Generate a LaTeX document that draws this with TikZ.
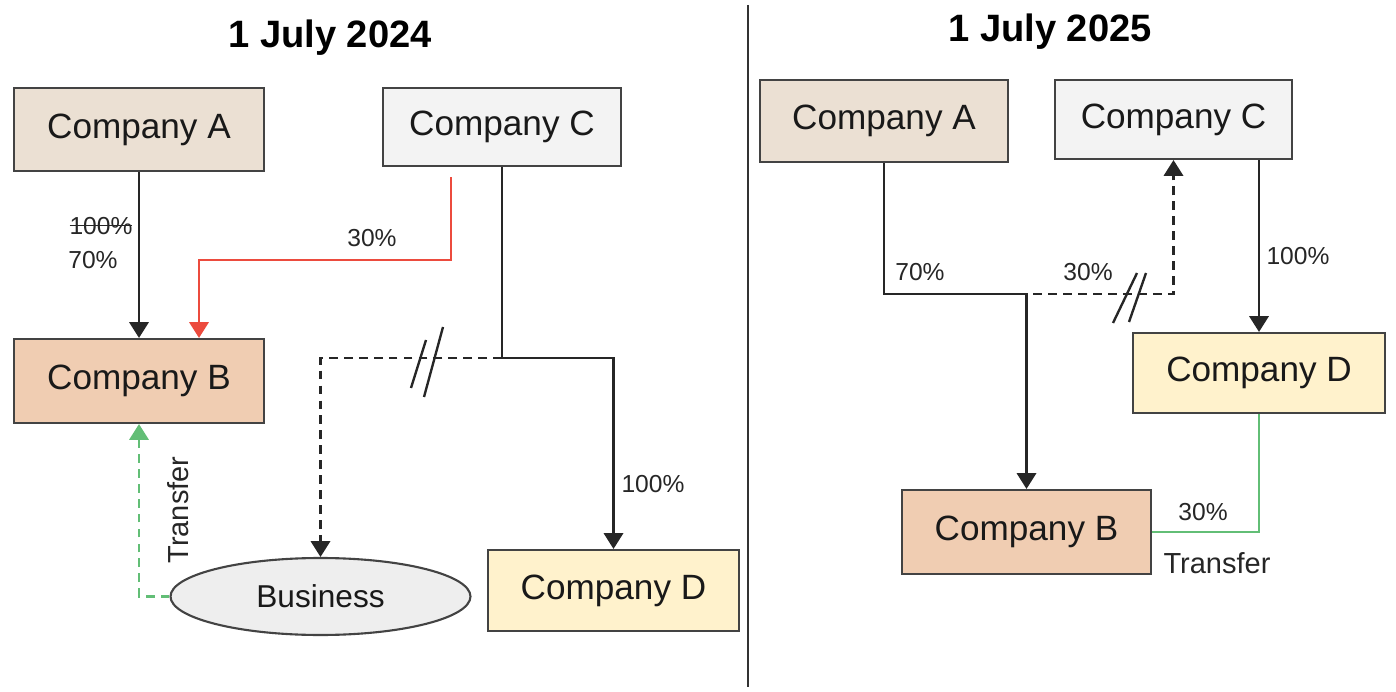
\documentclass[tikz,border=0pt]{standalone}
\usepackage{fontspec}
\setmainfont{Liberation Sans}
\usepackage{tikz}
\usetikzlibrary{shapes.geometric, arrows.meta, positioning, calc}
\definecolor{boxborder}{RGB}{67,67,67}
\definecolor{beigebox}{RGB}{235,224,211}
\definecolor{peachbox}{RGB}{240,205,178}
\definecolor{greybox}{RGB}{243,243,243}
\definecolor{yellowbox}{RGB}{255,242,204}
\definecolor{ellipsegrey}{RGB}{238,238,238}
\definecolor{linered}{RGB}{236,75,62}
\definecolor{linegreen}{RGB}{98,190,118}
% struck-through text
\newcommand\crossedout[1]{\setbox0\hbox{#1}\rlap{\rule[0.33em]{\wd0}{0.9pt}}\box0}
\tikzset{
  basebox/.style={
    rectangle, draw=boxborder, line width=1.2pt, inner sep=0pt, align=center,
    text=black!90, font=\fontsize{20}{24}\selectfont
  },
  companyA/.style={basebox, fill=beigebox},
  companyB/.style={basebox, fill=peachbox},
  companyC/.style={basebox, fill=greybox},
  companyD/.style={basebox, fill=yellowbox},
  assetnode/.style={ellipse, draw=boxborder, line width=1.2pt, fill=ellipsegrey, inner sep=0pt,
    minimum width=6cm, minimum height=1.54cm, text=black!90, font=\fontsize{18}{22}\selectfont},
  datebox/.style={font=\bfseries\fontsize{21.7}{26}\selectfont, text=black},
  pctlabel/.style={font=\fontsize{14}{17}\selectfont, text=black!85, inner sep=0pt},
  notelabel/.style={font=\fontsize{16.5}{20}\selectfont, text=black!85, inner sep=0pt},
  arrow/.style={-{Triangle[width=11pt,length=9pt]}, line width=1.35pt, color=black!85},
  redarrow/.style={-{Triangle[width=11pt,length=9pt]}, line width=1.35pt, color=linered},
  greenarrow/.style={-{Triangle[width=11pt,length=9pt]}, line width=1.35pt, color=linegreen,
    dash pattern=on 5pt off 3.5pt},
  greenline/.style={line width=1.35pt, color=linegreen},
  dashedarrow/.style={-{Triangle[width=11pt,length=9pt]}, line width=1.35pt, color=black!85,
    dash pattern=on 5pt off 3.5pt},
  breakmark/.style={line width=1.35pt, color=black!85}
}
\begin{document}
\begin{tikzpicture}[x=0.02cm, y=-0.02cm]
  \useasboundingbox (0,0) rectangle (1396,692);

  % divider between the two dates
  \draw[line width=1.2pt, black!80] (748,5) -- (748,687);

  % ---- 1 July 2024 ----
  \node[datebox] (date1) at (330,38) {1 July 2024};
  \node[companyA, minimum width=5cm, minimum height=1.66cm] (cA1) at (139,129.5) {Company A};
  \node[companyC, minimum width=4.76cm, minimum height=1.56cm] (cC1) at (502,127) {Company C};
  \node[companyB, minimum width=5cm, minimum height=1.68cm] (cB1) at (139,381) {Company B};
  \node[companyD, minimum width=5.02cm, minimum height=1.62cm] (cD1) at (613.5,590.5) {Company D};
  \node[assetnode] (biz) at (320.5,596.5) {Business};

  \draw[arrow] (cA1) -- (cB1);
  \draw[redarrow] ([shift={(-51,10)}]cC1.south) -- ++(0,83) -| ([shift={(60,0)}]cB1.north);
  \draw[arrow] (cC1.south) -- ++(0,191) coordinate (split1) -| (cD1.north);
  \draw[dashedarrow] (split1) -| (biz.north);
  \draw[greenarrow] (biz.west) -| (cB1.south);

  \node[pctlabel] (oldpct1) at (101,226) {\crossedout{100\%}};
  \node[pctlabel] (newpct1) at (93,260) {70\%};
  \node[pctlabel] (redpct1) at (372,238) {30\%};
  \node[pctlabel] (dpct1) at (653,484) {100\%};
  \node[notelabel, rotate=90] (move1) at (178,510) {Transfer};

  \draw[breakmark] (411,388) -- (426,340);
  \draw[breakmark] (424,397) -- (443,327);

  % ---- 1 July 2025 ----
  \node[datebox] (date2) at (1050,32) {1 July 2025};
  \node[companyA, minimum width=4.96cm, minimum height=1.64cm] (cA2) at (884,121) {Company A};
  \node[companyC, minimum width=4.74cm, minimum height=1.58cm] (cC2) at (1173.5,119.5) {Company C};
  \node[companyD, minimum width=5.04cm, minimum height=1.6cm] (cD2) at (1259,373) {Company D};
  \node[companyB, minimum width=4.98cm, minimum height=1.68cm] (cB2) at (1026.5,532) {Company B};

  \draw[arrow] (cA2.south) -- ++(0,131) coordinate (split2) -| (cB2.north);
  \draw[dashedarrow] (split2) -| (cC2.south);
  \draw[arrow] (cD2.north |- cC2.south) -- (cD2.north);
  \draw[greenline] (cD2.south) |- (cB2.east);

  \node[pctlabel] (apct2) at (920,272) {70\%};
  \node[pctlabel] (cpct2) at (1088,272) {30\%};
  \node[pctlabel] (dpct2) at (1298,256) {100\%};
  \node[pctlabel] (bpct2) at (1203,512) {30\%};
  \node[notelabel] (move2) at (1217,563) {Transfer};

  \draw[breakmark] (1113,323) -- (1137,273);
  \draw[breakmark] (1129,322) -- (1146,273);
\end{tikzpicture}
\end{document}
